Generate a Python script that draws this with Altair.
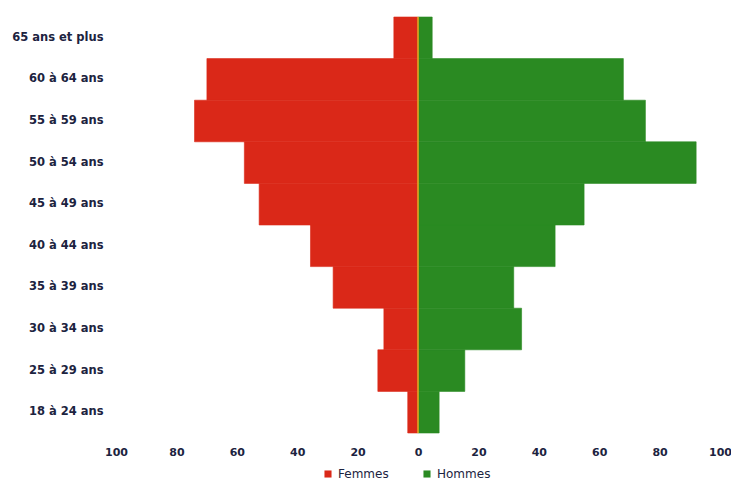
import altair as alt
import pandas as pd

groups = ["18 à 24 ans", "25 à 29 ans", "30 à 34 ans", "35 à 39 ans", "40 à 44  ans",
          "45 à 49 ans", "50 à 54 ans", "55 à 59 ans", "60 à 64 ans", "65 ans et plus"]
femmes = [3.4, 13.3, 11.3, 28.1, 35.6, 52.6, 57.5, 74.0, 69.9, 8.0]
hommes = [7.0, 15.5, 34.3, 31.7, 45.4, 55.0, 92.1, 75.3, 68.0, 4.7]
x_ticks = [-100, -80, -60, -40, -20, 0, 20, 40, 60, 80, 100]

rows = []
for g, f, h in zip(groups, femmes, hommes):
    rows.append({"groupe": g, "sexe": "Femmes", "val": -f})
    rows.append({"groupe": g, "sexe": "Hommes", "val": h})
df = pd.DataFrame(rows)

order = list(reversed(groups))
text_color = "#1c2340"
col_scale = alt.Scale(domain=["Femmes", "Hommes"], range=["#da2818", "#2a8a22"])

bars = alt.Chart(df).mark_bar(strokeWidth=0.6).encode(
    x=alt.X("val:Q",
            scale=alt.Scale(domain=[-100, 100], nice=False, zero=False),
            axis=alt.Axis(values=x_ticks, labelExpr="abs(datum.value)", title=None,
                          grid=False, domain=False, ticks=False, labelPadding=13,
                          labelFont="DejaVu Sans", labelFontWeight="bold", labelFontSize=11,
                          labelColor=text_color, labelFlush=False)),
    y=alt.Y("groupe:N", sort=order,
            scale=alt.Scale(paddingInner=0, paddingOuter=0),
            axis=alt.Axis(title=None, domain=False, ticks=False, labelPadding=13,
                          labelFont="DejaVu Sans", labelFontWeight="bold", labelFontSize=11.5,
                          labelColor=text_color)),
    color=alt.Color("sexe:N", scale=col_scale,
                    legend=alt.Legend(title=None, orient="none", legendX=206, legendY=451,
                                      direction="horizontal", symbolType="square", symbolSize=50,
                                      labelFont="DejaVu Sans", labelFontSize=12,
                                      labelColor=text_color, columnPadding=32,
                                      symbolStrokeWidth=0)),
    stroke=alt.Stroke("sexe:N", scale=col_scale, legend=None),
)

zero = alt.Chart(pd.DataFrame({"x": [0]})).mark_rule(color="#f2a623", strokeWidth=1.5).encode(x="x:Q")

chart = alt.layer(bars, zero).properties(
    width=604, height=416,
    background="white",
    autosize=alt.AutoSizeParams(type="none"),
    padding={"left": 108, "top": 9, "right": 11, "bottom": 48},
).configure_view(stroke=None, strokeWidth=0)

chart.save("out.html", embed_options={"renderer": "svg", "actions": False})
